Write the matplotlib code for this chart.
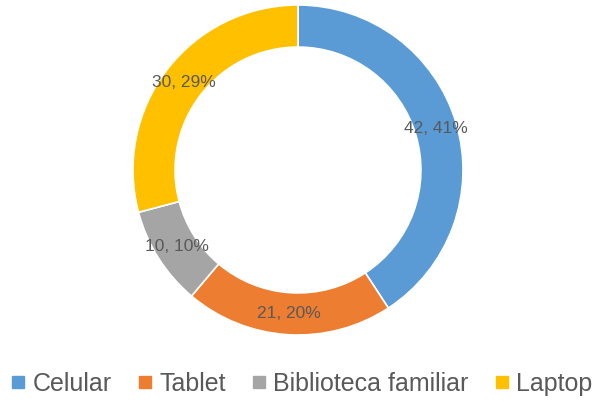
import matplotlib.pyplot as plt
from matplotlib.lines import Line2D

plt.rcParams['font.family'] = ['Liberation Sans', 'DejaVu Sans']

categories = ['Celular', 'Tablet', 'Biblioteca familiar', 'Laptop']
values = [42, 21, 10, 30]
colors = ['#5B9BD5', '#ED7D31', '#A5A5A5', '#FFC000']

total = sum(values)


def fmt(pct):
    v = int(round(pct * total / 100.0))
    return '%d, %d%%' % (v, round(pct))


fig = plt.figure(figsize=(5.95, 4.03), dpi=100)
ax = fig.add_axes([133 / 595, 68 / 403, 330 / 595, 330 / 403])

wedges, texts, autotexts = ax.pie(
    values, colors=colors, startangle=90, counterclock=False,
    radius=1.0, autopct=fmt, pctdistance=0.87,
    wedgeprops=dict(width=0.255, edgecolor='white', linewidth=1.2),
    textprops=dict(color='#595959', fontsize=12.5))
ax.set_xlim(-1, 1)
ax.set_ylim(-1, 1)
ax.set_aspect('equal')

handles = [Line2D([], [], marker='s', linestyle='none', markersize=8.5,
                  markerfacecolor=c, markeredgecolor=c) for c in colors]
leg = fig.legend(handles, categories, loc='center', bbox_to_anchor=(302 / 595, 19 / 403),
                 ncol=4, frameon=False, fontsize=18, handlelength=0.55,
                 handletextpad=0.3, columnspacing=1.05)
for t in leg.get_texts():
    t.set_color('#595959')

fig.savefig('out.png', dpi=100)
